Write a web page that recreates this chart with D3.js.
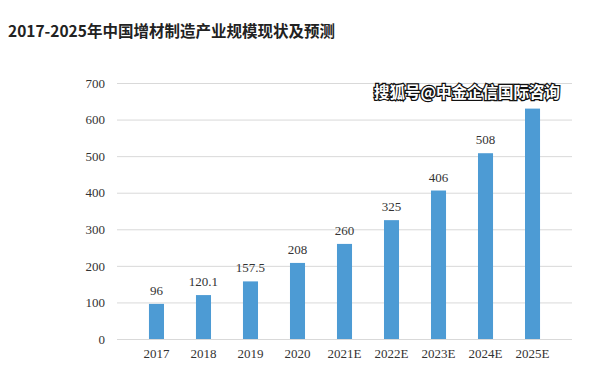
<!DOCTYPE html>
<html>
<head>
<meta charset="utf-8">
<script src="https://cdn.jsdelivr.net/npm/d3@7"></script>
<style>
  body { margin: 0; background: #fff; }
</style>
</head>
<body>
<div id="chart"></div>
<script>
// chart data
const years = ["2017", "2018", "2019", "2020", "2021E", "2022E", "2023E", "2024E", "2025E"];
const scaleValues = [96, 120.1, 157.5, 208, 260, 325, 406, 508, 630];
const yTicks = [0, 100, 200, 300, 400, 500, 600, 700];

const width = 609;
const height = 376;
const margin = { top: 83, right: 37, bottom: 37, left: 117 };

const svg = d3.select("#chart")
    .append("svg")
    .attr("width", width)
    .attr("height", height);

// title
svg.append("text")
    .attr("x", 8)
    .attr("y", 37)
    .style("font-family", "'Noto Sans CJK SC', sans-serif")
    .style("font-size", "15.5px")
    .style("font-weight", "bold")
    .style("fill", "#222")
    .text("2017-2025年中国增材制造产业规模现状及预测");

const x = d3.scaleBand()
    .domain(years)
    .range([margin.left, width - margin.right])
    .padding(0.68);

const y = d3.scaleLinear()
    .domain([0, 700])
    .range([height - margin.bottom, margin.top]);

// gridlines
svg.append("g")
    .selectAll("line")
    .data(yTicks)
    .enter()
    .append("line")
    .attr("x1", margin.left)
    .attr("x2", width - margin.right)
    .attr("y1", d => y(d) + 0.5)
    .attr("y2", d => y(d) + 0.5)
    .attr("stroke", "#d9d9d9")
    .attr("stroke-width", 1);

// y axis labels
const yAxis = svg.append("g")
    .attr("transform", `translate(${margin.left - 12}, 0)`)
    .call(d3.axisLeft(y).tickValues(yTicks).tickSize(0).tickPadding(0));
yAxis.select(".domain").remove();
yAxis.selectAll("text")
    .style("font-family", "'Liberation Serif', serif")
    .style("font-size", "13px")
    .style("fill", "#333");

// bars
svg.selectAll("rect.bar")
    .data(years)
    .enter()
    .append("rect")
    .attr("class", "bar")
    .attr("x", (d) => x(d))
    .attr("y", (d, i) => y(scaleValues[i]))
    .attr("width", x.bandwidth())
    .attr("height", (d, i) => y(0) - y(scaleValues[i]))
    .attr("fill", "#4d9bd4");

// value labels
svg.selectAll("text.val")
    .data(years)
    .enter()
    .append("text")
    .attr("class", "val")
    .attr("x", d => x(d) + x.bandwidth() / 2)
    .attr("y", (d, i) => y(scaleValues[i]) - 9)
    .style("text-anchor", "middle")
    .style("font-family", "'Liberation Serif', serif")
    .style("font-size", "13px")
    .style("fill", "#333")
    .text((d, i) => scaleValues[i]);

// x axis
const xAxis = svg.append("g")
    .attr("transform", `translate(0, ${height - margin.bottom})`)
    .call(d3.axisBottom(x).tickSize(0).tickPadding(10));
xAxis.select(".domain").remove();
xAxis.selectAll("text")
    .style("font-family", "'Liberation Serif', serif")
    .style("font-size", "13px")
    .style("fill", "#333");

// watermark
svg.append("text")
    .attr("x", 374)
    .attr("y", 98)
    .style("font-family", "'Noto Sans CJK SC', sans-serif")
    .style("font-size", "15.5px")
    .style("font-weight", "bold")
    .style("fill", "#fff")
    .style("stroke", "#111")
    .style("stroke-width", 2.5)
    .style("paint-order", "stroke")
    .text("搜狐号@中金企信国际咨询");
</script>
</body>
</html>
